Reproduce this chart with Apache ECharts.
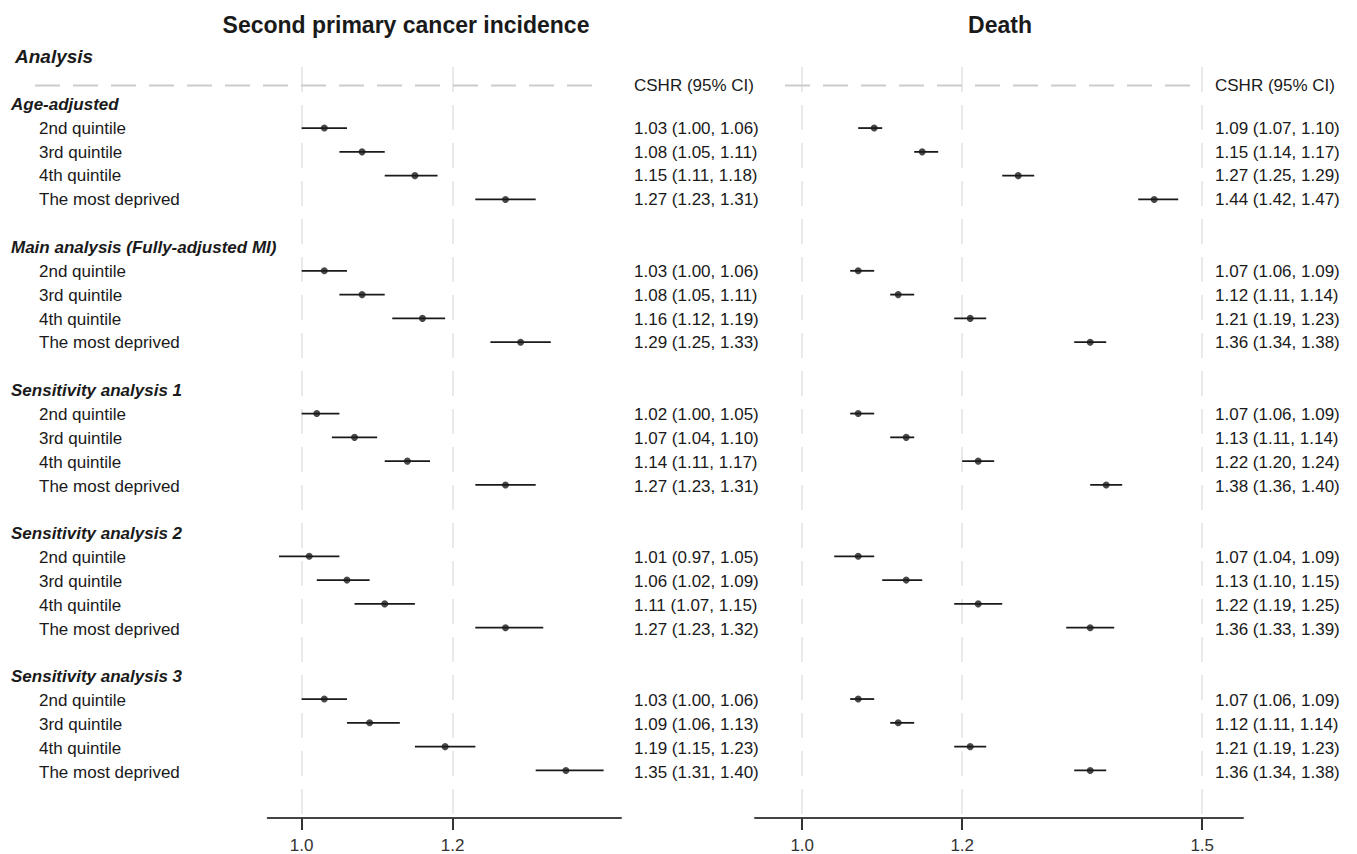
<!DOCTYPE html>
<html>
<head>
<meta charset="utf-8">
<script src="https://cdn.jsdelivr.net/npm/echarts@6/dist/echarts.min.js"></script>
<style>
html,body{margin:0;padding:0;background:#ffffff;}
#chart{width:1357px;height:854px;}
</style>
</head>
<body>
<div id="chart"></div>
<script>
// ---------------- DATA ----------------
const panelTitles = ['Second primary cancer incidence', 'Death'];
const analysisHeader = 'Analysis';
const columnHeader = 'CSHR (95% CI)';
const groups = [
  'Age-adjusted',
  'Main analysis (Fully-adjusted MI)',
  'Sensitivity analysis 1',
  'Sensitivity analysis 2',
  'Sensitivity analysis 3'
];
const quintiles = ['2nd quintile', '3rd quintile', '4th quintile', 'The most deprived'];

// Second primary cancer incidence
const spcEst  = [1.03, 1.08, 1.15, 1.27,  1.03, 1.08, 1.16, 1.29,  1.02, 1.07, 1.14, 1.27,  1.01, 1.06, 1.11, 1.27,  1.03, 1.09, 1.19, 1.35];
const spcLow  = [1.00, 1.05, 1.11, 1.23,  1.00, 1.05, 1.12, 1.25,  1.00, 1.04, 1.11, 1.23,  0.97, 1.02, 1.07, 1.23,  1.00, 1.06, 1.15, 1.31];
const spcHigh = [1.06, 1.11, 1.18, 1.31,  1.06, 1.11, 1.19, 1.33,  1.05, 1.10, 1.17, 1.31,  1.05, 1.09, 1.15, 1.32,  1.06, 1.13, 1.23, 1.40];

// Death
const deathEst  = [1.09, 1.15, 1.27, 1.44,  1.07, 1.12, 1.21, 1.36,  1.07, 1.13, 1.22, 1.38,  1.07, 1.13, 1.22, 1.36,  1.07, 1.12, 1.21, 1.36];
const deathLow  = [1.07, 1.14, 1.25, 1.42,  1.06, 1.11, 1.19, 1.34,  1.06, 1.11, 1.20, 1.36,  1.04, 1.10, 1.19, 1.33,  1.06, 1.11, 1.19, 1.34];
const deathHigh = [1.10, 1.17, 1.29, 1.47,  1.09, 1.14, 1.23, 1.38,  1.09, 1.14, 1.24, 1.40,  1.09, 1.15, 1.25, 1.39,  1.09, 1.14, 1.23, 1.38];

// tick labels
const spcTicks = [1.0, 1.2];
const deathTicks = [1.0, 1.2, 1.5];

// ---------------- LAYOUT / STYLE ----------------
const FONT = "'Liberation Sans', Arial, Helvetica, sans-serif";
const TEXT_COLOR = '#1a1a1a';
const ROW_MIN = -1.567, ROW_MAX = 30;
const HEADER_ROW = -0.79;
const GRID_TOP = 67, GRID_BOTTOM = 34;

function rowOf(k) { return Math.floor(k / 4) * 6 + 1 + (k % 4); }
function fmt(e, l, h) { return e.toFixed(2) + ' (' + l.toFixed(2) + ', ' + h.toFixed(2) + ')'; }

const ciData = (lo, hi) => lo.map((v, k) => [v, hi[k], rowOf(k)]);
const ptData = (est) => est.map((v, k) => [v, rowOf(k)]);

// text table
const COL_GROUP = 11, COL_ITEM = 39, COL_SPC = 634, COL_DEATH = 1215;
const textItems = [];
textItems.push({x: COL_SPC, row: HEADER_ROW, text: columnHeader, kind: 'item'});
textItems.push({x: COL_DEATH, row: HEADER_ROW, text: columnHeader, kind: 'item'});
groups.forEach((g, gi) => {
  textItems.push({x: COL_GROUP, row: gi * 6, text: g, kind: 'group'});
  quintiles.forEach((q, qi) => {
    const k = gi * 4 + qi;
    textItems.push({x: COL_ITEM, row: rowOf(k), text: q, kind: 'item'});
    textItems.push({x: COL_SPC, row: rowOf(k), text: fmt(spcEst[k], spcLow[k], spcHigh[k]), kind: 'item'});
    textItems.push({x: COL_DEATH, row: rowOf(k), text: fmt(deathEst[k], deathLow[k], deathHigh[k]), kind: 'item'});
  });
});

const yAxisBase = {type: 'value', inverse: true, min: ROW_MIN, max: ROW_MAX, show: false};

function plotXAxis(gridIndex, min, max, ticks) {
  return {
    type: 'value', gridIndex: gridIndex, min: min, max: max,
    axisLine: {show: true, onZero: false, lineStyle: {color: '#444444', width: 2}},
    axisTick: {show: true, customValues: ticks, length: 12, lineStyle: {color: '#333333', width: 2}},
    axisLabel: {show: true, customValues: ticks, formatter: v => v.toFixed(1), color: '#333333',
                fontSize: 17, fontFamily: FONT, margin: 19},
    splitLine: {show: true, lineStyle: {color: '#e9e9e9', width: 2, type: [25, 13]}}
  };
}

function ciRender(params, api) {
  const a = api.coord([api.value(0), api.value(2)]);
  const b = api.coord([api.value(1), api.value(2)]);
  return {type: 'line', shape: {x1: a[0], y1: a[1], x2: b[0], y2: b[1]},
          style: {stroke: '#1a1a1a', lineWidth: 1.8}};
}

const option = {
  animation: false,
  backgroundColor: '#ffffff',
  grid: [
    {left: 267.7, width: 353.3, top: GRID_TOP, bottom: GRID_BOTTOM},
    {left: 755, width: 488, top: GRID_TOP, bottom: GRID_BOTTOM},
    {left: 0, right: 0, top: GRID_TOP, bottom: GRID_BOTTOM}
  ],
  xAxis: [
    plotXAxis(0, 0.955, 1.423, spcTicks),
    plotXAxis(1, 0.941, 1.551, deathTicks),
    {type: 'value', gridIndex: 2, min: 0, max: 1357, show: false}
  ],
  yAxis: [
    Object.assign({gridIndex: 0}, yAxisBase),
    Object.assign({gridIndex: 1}, yAxisBase),
    Object.assign({gridIndex: 2}, yAxisBase)
  ],
  graphic: [
    {type: 'text', x: 406, y: 25, style: {text: panelTitles[0], font: 'bold 23px ' + FONT, fill: TEXT_COLOR, align: 'center', verticalAlign: 'middle'}},
    {type: 'text', x: 1000, y: 25, style: {text: panelTitles[1], font: 'bold 23px ' + FONT, fill: TEXT_COLOR, align: 'center', verticalAlign: 'middle'}},
    {type: 'text', x: 15, y: 56, style: {text: analysisHeader, font: 'italic bold 19px ' + FONT, fill: TEXT_COLOR, align: 'left', verticalAlign: 'middle'}}
  ],
  series: [
    {type: 'line', xAxisIndex: 2, yAxisIndex: 2, data: [[35, HEADER_ROW], [597, HEADER_ROW]],
     symbol: 'none', silent: true, lineStyle: {color: '#cccccc', width: 2, type: [25, 13]}, z: 3},
    {type: 'line', xAxisIndex: 2, yAxisIndex: 2, data: [[785, HEADER_ROW], [1195, HEADER_ROW]],
     symbol: 'none', silent: true, lineStyle: {color: '#cccccc', width: 2, type: [25, 13]}, z: 3},
    {type: 'custom', xAxisIndex: 0, yAxisIndex: 0, data: ciData(spcLow, spcHigh),
     encode: {x: [0, 1], y: 2}, renderItem: ciRender, silent: true, z: 4},
    {type: 'custom', xAxisIndex: 1, yAxisIndex: 1, data: ciData(deathLow, deathHigh),
     encode: {x: [0, 1], y: 2}, renderItem: ciRender, silent: true, z: 4},
    {type: 'scatter', xAxisIndex: 0, yAxisIndex: 0, data: ptData(spcEst), symbol: 'circle', symbolSize: 7,
     itemStyle: {color: '#1a1a1a'}, silent: true, z: 5},
    {type: 'scatter', xAxisIndex: 1, yAxisIndex: 1, data: ptData(deathEst), symbol: 'circle', symbolSize: 7,
     itemStyle: {color: '#1a1a1a'}, silent: true, z: 5},
    {type: 'custom', xAxisIndex: 2, yAxisIndex: 2, data: textItems.map(t => [t.x, t.row]),
     encode: {x: 0, y: 1}, silent: true, z: 6,
     renderItem: function (params, api) {
       const t = textItems[params.dataIndex];
       const p = api.coord([api.value(0), api.value(1)]);
       return {type: 'text', x: p[0], y: p[1],
               style: {text: t.text, fill: TEXT_COLOR,
                       font: (t.kind === 'group' ? 'italic bold 17px ' : '17px ') + FONT,
                       align: 'left', verticalAlign: 'middle'}};
     }}
  ]
};

const chart = echarts.init(document.getElementById('chart'), null, {renderer: 'svg'});
chart.setOption(option);
</script>
</body>
</html>
